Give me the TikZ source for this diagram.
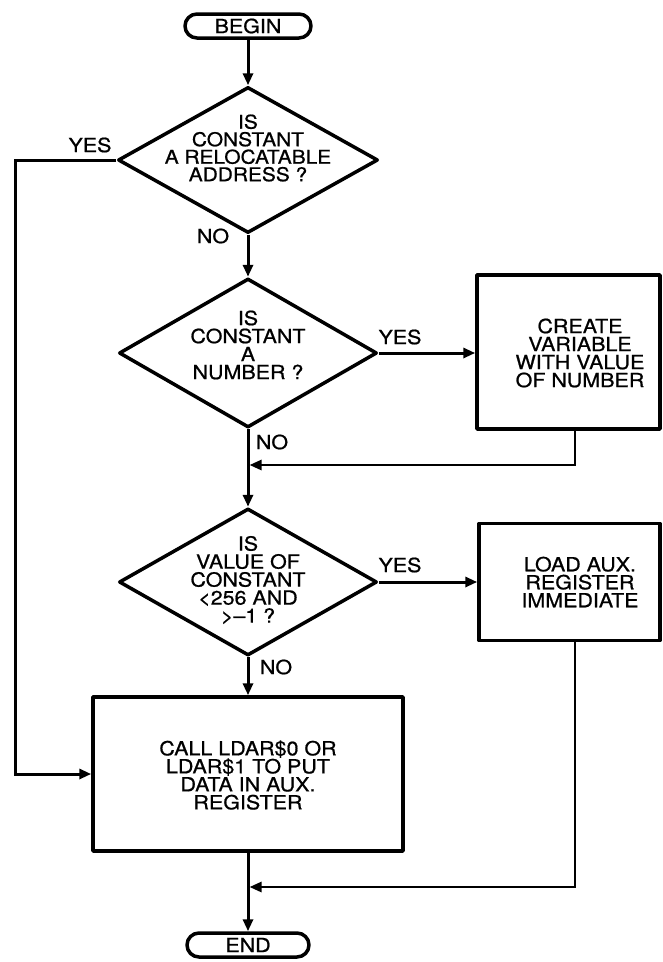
\documentclass[tikz,border=0pt]{standalone}
\usepackage{fontspec}
\setmainfont{TeX Gyre Heros}[FakeStretch=1.1,FakeBold=0.8]
\usetikzlibrary{arrows.meta,shapes.geometric}
\begin{document}
\begin{tikzpicture}[x=1pt,y=-1pt,
  every node/.style={font=\fontsize{19.5}{18}\selectfont},
  shapeline/.style={draw,line width=3.5pt,line join=round},
  term/.style={shapeline,rectangle,rounded corners=12pt,minimum width=126pt,minimum height=24pt,inner sep=0pt},
  dia/.style={shapeline,diamond,inner sep=0pt},
  box/.style={shapeline,rectangle,inner sep=0pt},
  txt/.style={align=center,inner sep=0pt},
  lbl/.style={inner sep=0pt},
  tip/.style={-{Triangle[length=12pt,width=10pt]}},
  flow/.style={line width=3pt,tip},
  ret/.style={line width=2.6pt,line join=miter},
]
\fill[white] (0,0) rectangle (662,962);
\useasboundingbox (0,0) rectangle (662,962);

\node[term] (begin) at (248,26) {BEGIN};
\node[dia,minimum width=260pt,minimum height=146pt] (d1) at (248,160) {};
\node[txt,font=\fontsize{19}{17.5}\selectfont] (d1t) at (248,148) {IS\\CONSTANT\\A RELOCATABLE\\ADDRESS ?};
\node[dia,minimum width=258pt,minimum height=149pt] (d2) at (248,353) {};
\node[txt] (d2t) at (248,345) {IS\\CONSTANT\\A\\NUMBER ?};
\node[box,minimum width=183pt,minimum height=154pt] (create) at (568.5,352) {};
\node[txt] (createt) at (580,353) {CREATE\\VARIABLE\\WITH VALUE\\OF NUMBER};
\node[dia,minimum width=258pt,minimum height=147pt] (d3) at (248,582) {};
\node[txt] (d3t) at (248,580) {IS\\VALUE OF\\CONSTANT\\<256 AND\\>–1 ?};
\node[box,minimum width=181pt,minimum height=117pt] (load) at (569.5,582) {};
\node[txt] (loadt) at (580,582) {LOAD AUX.\\REGISTER\\IMMEDIATE};
\node[box,minimum width=310pt,minimum height=154pt] (call) at (248,774) {};
\node[txt] (callt) at (248,775) {CALL LDAR\$0 OR\\LDAR\$1 TO PUT\\DATA IN AUX.\\REGISTER};
\node[term,minimum width=122pt] (end) at (248,945) {END};

\node[lbl] (y1) at (90,145) {YES};
\node[lbl] (n1) at (213,236) {NO};
\node[lbl] (y2) at (400,337) {YES};
\node[lbl] (n2) at (272,442) {NO};
\node[lbl] (y3) at (400,565) {YES};
\node[lbl] (n3) at (276,667) {NO};

\coordinate (lx) at (15,162);
\coordinate (r1) at (575,465);
\coordinate (m1) at (249.5,465);
\coordinate (r2) at (575,887);
\coordinate (m2) at (249.5,887);

\draw[flow] (begin.south) -- (d1.north);
\draw[flow] (d1.south) -- (d2.north);
\draw[line width=3pt,tip] (d1.west) -- (d1.west -| lx) -- (lx |- call.west) -- (call.west);
\draw[flow] (d2.east) -- (d2.east -| create.west);
\draw[flow] (d2.south) -- (d3.north);
\draw[ret,tip] (create.south -| r1) -- (r1) -- (m1);
\draw[flow] (d3.east) -- (d3.east -| load.west);
\draw[flow] (d3.south) -- (call.north);
\draw[ret,tip] (load.south -| r2) -- (r2) -- (m2);
\draw[flow] (call.south) -- (end.north);
\end{tikzpicture}
\end{document}
